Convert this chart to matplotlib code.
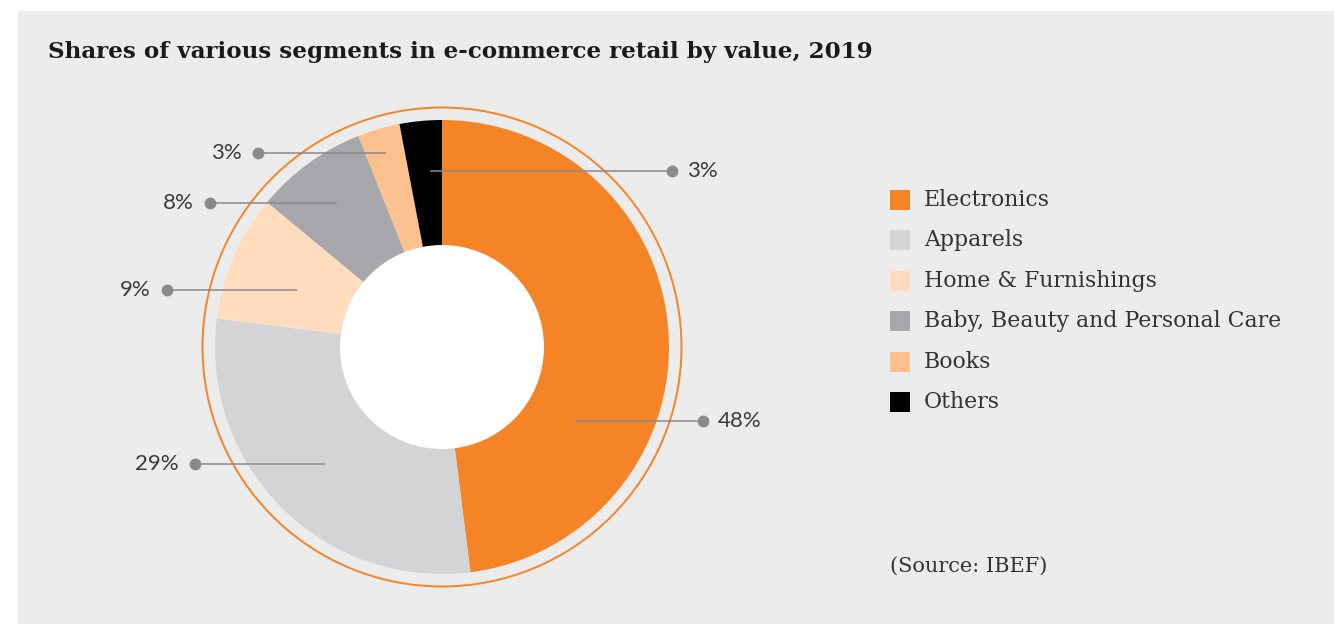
import matplotlib
matplotlib.use('Agg')
import matplotlib.pyplot as plt
from matplotlib.patches import Rectangle, Circle
import numpy as np

# data
segments = ['Electronics', 'Apparels', 'Home & Furnishings',
            'Baby, Beauty and Personal Care', 'Books', 'Others']
shares = [48, 29, 9, 8, 3, 3]
seg_colors = ['#f58426', '#d3d4d6', '#fedcbd', '#a6a7aa', '#fcc18e', '#000000']

title = 'Shares of various segments in e-commerce retail by value, 2019'
source = '(Source: IBEF)'

# layout (pixel units, y measured from bottom)
W, H = 1334, 624
cx, cy = 442, H - 347
r_out, r_in, r_ring = 227, 102, 239.5
# where each leader line starts inside its wedge, and where its dot sits
lead_frac = [0.31, 0.5, 0.56, 0.5, 0.5, 0.36]
lead_rad = [152, 165, 156, 178, 202, 176]
dot_x = [703, 195, 167, 210, 258, 672]

bg = '#ececec'
grey_line = '#8a8a8c'

fig = plt.figure(figsize=(W / 100, H / 100), dpi=100, facecolor='white')
ax = fig.add_axes([0, 0, 1, 1])

wedges, _ = ax.pie(shares, colors=seg_colors, startangle=90, counterclock=False,
                   radius=r_out, center=(cx, cy), frame=True,
                   wedgeprops=dict(linewidth=0))
ax.set_xlim(0, W)
ax.set_ylim(0, H)
ax.set_aspect('auto')
ax.axis('off')

# grey panel
ax.add_patch(Rectangle((18, 0), W - 18, H - 11, facecolor=bg, edgecolor='none', zorder=0))
# hole and outer ring
ax.add_patch(Circle((cx, cy), r_in, facecolor='white', edgecolor='none', zorder=3))
ax.add_patch(Circle((cx, cy), r_ring, fill=False, edgecolor='#f58426', lw=1.4, zorder=3))

# leader lines and percentage labels
for i, w in enumerate(wedges):
    th = np.radians(w.theta1 + lead_frac[i] * (w.theta2 - w.theta1))
    x0 = cx + lead_rad[i] * np.cos(th)
    y0 = cy + lead_rad[i] * np.sin(th)
    ax.plot([x0, dot_x[i]], [y0, y0], color=grey_line, lw=1.1, zorder=4,
            solid_capstyle='butt')
    ax.plot(dot_x[i], y0, 'o', color=grey_line, markersize=7.5, zorder=5)
    if dot_x[i] > cx:
        ax.text(dot_x[i] + 15, y0, '%d%%' % shares[i], ha='left', va='center',
                fontsize=16, family='Lato', color='#3a3a3a', zorder=6)
    else:
        ax.text(dot_x[i] - 16, y0, '%d%%' % shares[i], ha='right', va='center',
                fontsize=16, family='Lato', color='#3a3a3a', zorder=6)

# legend
for i, name in enumerate(segments):
    yc = H - (200 + i * 40.4)
    ax.add_patch(Rectangle((890, yc - 10), 20, 20, facecolor=seg_colors[i],
                           edgecolor='none', zorder=4))
    ax.text(924, yc, name, ha='left', va='center', fontsize=15.8,
            family='DejaVu Serif', color='#333333', zorder=6)

ax.text(48, H - 52, title, ha='left', va='center', fontsize=16.6,
        family='DejaVu Serif', fontweight='semibold', color='#1a1a1a')
ax.text(890, H - 566, source, ha='left', va='center', fontsize=15,
        family='DejaVu Serif', color='#333333')

fig.savefig('out.png', dpi=100, facecolor='white')
